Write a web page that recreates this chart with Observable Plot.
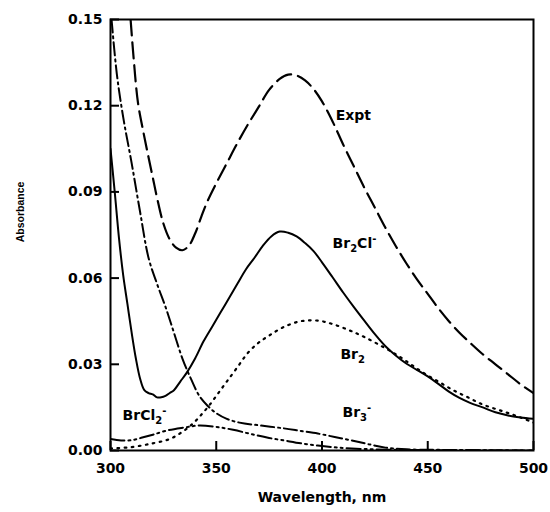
<!DOCTYPE html>
<html>
<head>
<meta charset="utf-8">
<script src="https://cdn.jsdelivr.net/npm/d3@7"></script>
<script src="https://cdn.jsdelivr.net/npm/@observablehq/plot@0.6"></script>
<style>
  body { margin: 0; background: #fff; }
</style>
</head>
<body>
<div id="chart"></div>
<script>
// Measured spectrum (Expt) and fitted component spectra
const wlExpt  = [309.5, 311, 313, 315.5, 318, 320, 322, 325, 328, 331, 334, 337, 340, 343, 346, 350, 355, 360, 365, 370, 375, 380, 384, 388, 392, 396, 400, 405, 410, 415, 420, 425, 430, 435, 440, 445, 450, 455, 460, 465, 470, 476, 482, 488, 494, 500];
const absExpt = [0.150, 0.136, 0.121, 0.111, 0.102, 0.095, 0.088, 0.079, 0.0735, 0.0706, 0.0697, 0.0712, 0.0755, 0.0815, 0.087, 0.093, 0.100, 0.107, 0.1135, 0.1195, 0.1255, 0.1293, 0.1308, 0.1305, 0.1288, 0.1258, 0.1215, 0.1145, 0.1065, 0.0990, 0.0915, 0.0845, 0.0775, 0.0710, 0.0650, 0.0595, 0.0545, 0.0495, 0.0450, 0.0410, 0.0375, 0.0335, 0.0300, 0.0265, 0.0230, 0.0200];

const wlBr2Cl  = [300, 302, 304, 306, 308, 310, 312, 314, 316, 318, 320, 322, 324, 326, 328, 330, 333, 336, 340, 344, 348, 352, 356, 360, 364, 368, 372, 376, 380, 384, 388, 392, 396, 400, 405, 410, 415, 420, 425, 430, 435, 440, 445, 450, 455, 460, 465, 470, 476, 482, 488, 494, 500];
const absBr2Cl = [0.105, 0.090, 0.074, 0.061, 0.051, 0.041, 0.032, 0.025, 0.021, 0.020, 0.0195, 0.0185, 0.0185, 0.019, 0.020, 0.021, 0.024, 0.027, 0.032, 0.038, 0.043, 0.048, 0.053, 0.058, 0.063, 0.067, 0.0712, 0.0745, 0.0762, 0.0758, 0.0745, 0.0722, 0.0694, 0.0655, 0.0603, 0.0550, 0.0500, 0.0452, 0.0405, 0.0363, 0.0330, 0.0302, 0.0280, 0.0258, 0.0232, 0.0205, 0.0183, 0.0166, 0.0150, 0.0133, 0.0122, 0.0115, 0.0110];

const wlBr2  = [300, 310, 320, 328, 334, 339, 343, 347, 351, 355, 360, 365, 370, 375, 382, 390, 398, 405, 413, 420, 429, 436, 442, 448, 455, 462, 469, 476, 484, 492, 500];
const absBr2 = [0.0007, 0.0012, 0.0025, 0.004, 0.0065, 0.0094, 0.0125, 0.016, 0.020, 0.024, 0.029, 0.034, 0.0375, 0.040, 0.043, 0.045, 0.0452, 0.044, 0.0418, 0.0395, 0.036, 0.033, 0.030, 0.027, 0.024, 0.021, 0.0185, 0.016, 0.014, 0.012, 0.0097];

const wlBr3  = [300.5, 303, 306, 310, 314, 318, 322, 326, 330, 334, 338, 342, 346, 350, 355, 361, 371, 382, 390, 398, 406, 414, 422, 430, 440, 460, 480, 500];
const absBr3 = [0.150, 0.131, 0.116, 0.100, 0.083, 0.067, 0.058, 0.050, 0.041, 0.032, 0.025, 0.019, 0.0155, 0.013, 0.011, 0.0097, 0.0087, 0.0077, 0.0068, 0.0059, 0.0047, 0.0035, 0.0022, 0.001, 0.0004, 0.0002, 0.0001, 0.0];

const wlBrCl2  = [300, 305, 310, 315, 320, 327, 335, 342, 350, 358, 366, 374, 382, 390, 398, 406, 414, 425, 440, 460, 500];
const absBrCl2 = [0.004, 0.0035, 0.0036, 0.0045, 0.0055, 0.007, 0.008, 0.0087, 0.0082, 0.0072, 0.0058, 0.0045, 0.0035, 0.0025, 0.0017, 0.0011, 0.0007, 0.0004, 0.0002, 0.0001, 0.0];

// Curve labels ("_" = subscript, "^" = superscript)
const labelText = ["Expt", "Br_2Cl^-", "Br_2", "Br_3^-", "BrCl_2^-"];
const labelWl   = [406.5, 405, 408.7, 409.7, 305.7];
const labelAbs  = [0.1166, 0.072, 0.0334, 0.0132, 0.0122];

const xTicks = [300, 350, 400, 450, 500];
const yTicks = [0, 0.03, 0.06, 0.09, 0.12, 0.15];
const yTitle = "Absorbance";
const yTitleAt = 0.083;

const rows = (wl, ab) => wl.map((w, i) => ({wl: w, abs: ab[i]}));

const series = [
  {data: rows(wlExpt, absExpt),   dash: "16,7",            width: 2.2},
  {data: rows(wlBr2Cl, absBr2Cl), dash: null,              width: 2},
  {data: rows(wlBr2, absBr2),     dash: "1.6,5.5",         width: 2.2},
  {data: rows(wlBr3, absBr3),     dash: "13,4,2,4",        width: 2},
  {data: rows(wlBrCl2, absBrCl2), dash: "14,4,2,4,2,4",    width: 2}
];

const labels = labelText.map((t, i) => ({t, wl: labelWl[i], abs: labelAbs[i]}));

const FONT = "DejaVu Sans, sans-serif";

const plot = Plot.plot({
  width: 550,
  height: 512,
  marginLeft: 110,
  marginRight: 17,
  marginTop: 19,
  marginBottom: 62,
  style: {fontFamily: FONT, background: "#fff"},
  x: {domain: [300, 500]},
  y: {domain: [0, 0.15]},
  marks: [
    ...series.map(s => Plot.line(s.data, {
      x: "wl", y: "abs", stroke: "black", strokeWidth: s.width,
      strokeDasharray: s.dash, curve: "catmull-rom", clip: true
    })),
    Plot.axisX({ticks: xTicks, tickSize: 0, tickPadding: 13, tickFormat: d3.format("d"),
      fontSize: 14, fontWeight: "bold", label: "Wavelength, nm", labelAnchor: "center",
      labelOffset: 51, labelArrow: "none"}),
    Plot.axisX({ticks: xTicks, tickSize: -9, tickFormat: () => "", label: null, strokeWidth: 2}),
    Plot.axisY({ticks: yTicks, tickSize: 0, tickPadding: 8, tickFormat: d3.format(".2f"),
      fontSize: 14, fontWeight: "bold", label: null}),
    Plot.axisY({ticks: yTicks, tickSize: -9, tickFormat: () => "", label: null, strokeWidth: 2}),
    Plot.frame({stroke: "black", strokeWidth: 2}),
    Plot.text(labels, {x: "wl", y: "abs", text: "t", textAnchor: "start",
      fontSize: 14, fontWeight: "bold", fill: "black"}),
    Plot.text([yTitle], {y: () => yTitleAt, frameAnchor: "left", textAnchor: "middle",
      dx: -90, rotate: -90, fontSize: 10.5, fontWeight: "bold", fill: "black",
      fontFamily: "Liberation Sans, Arial, sans-serif"})
  ]
});

// Render chemical formula labels with sub/superscripts
d3.select(plot).selectAll("text").each(function() {
  const s = this.textContent;
  if (!/[_^]/.test(s)) return;
  const el = d3.select(this);
  el.text(null);
  let shift = 0;
  const parts = s.match(/[_^].|[^_^]+/g);
  for (const p of parts) {
    let target = 0, txt = p, small = false;
    if (p[0] === "_") { target = 4; txt = p.slice(1); small = true; }
    else if (p[0] === "^") { target = -6; txt = p.slice(1); small = true; }
    el.append("tspan")
      .attr("dy", target - shift)
      .attr("font-size", small ? 10 : null)
      .text(txt);
    shift = target;
  }
});

// x-axis title styling
d3.select(plot).selectAll("g[aria-label='x-axis label'] text")
  .attr("font-size", 14).attr("font-weight", "bold");

document.getElementById("chart").appendChild(plot);
</script>
</body>
</html>
